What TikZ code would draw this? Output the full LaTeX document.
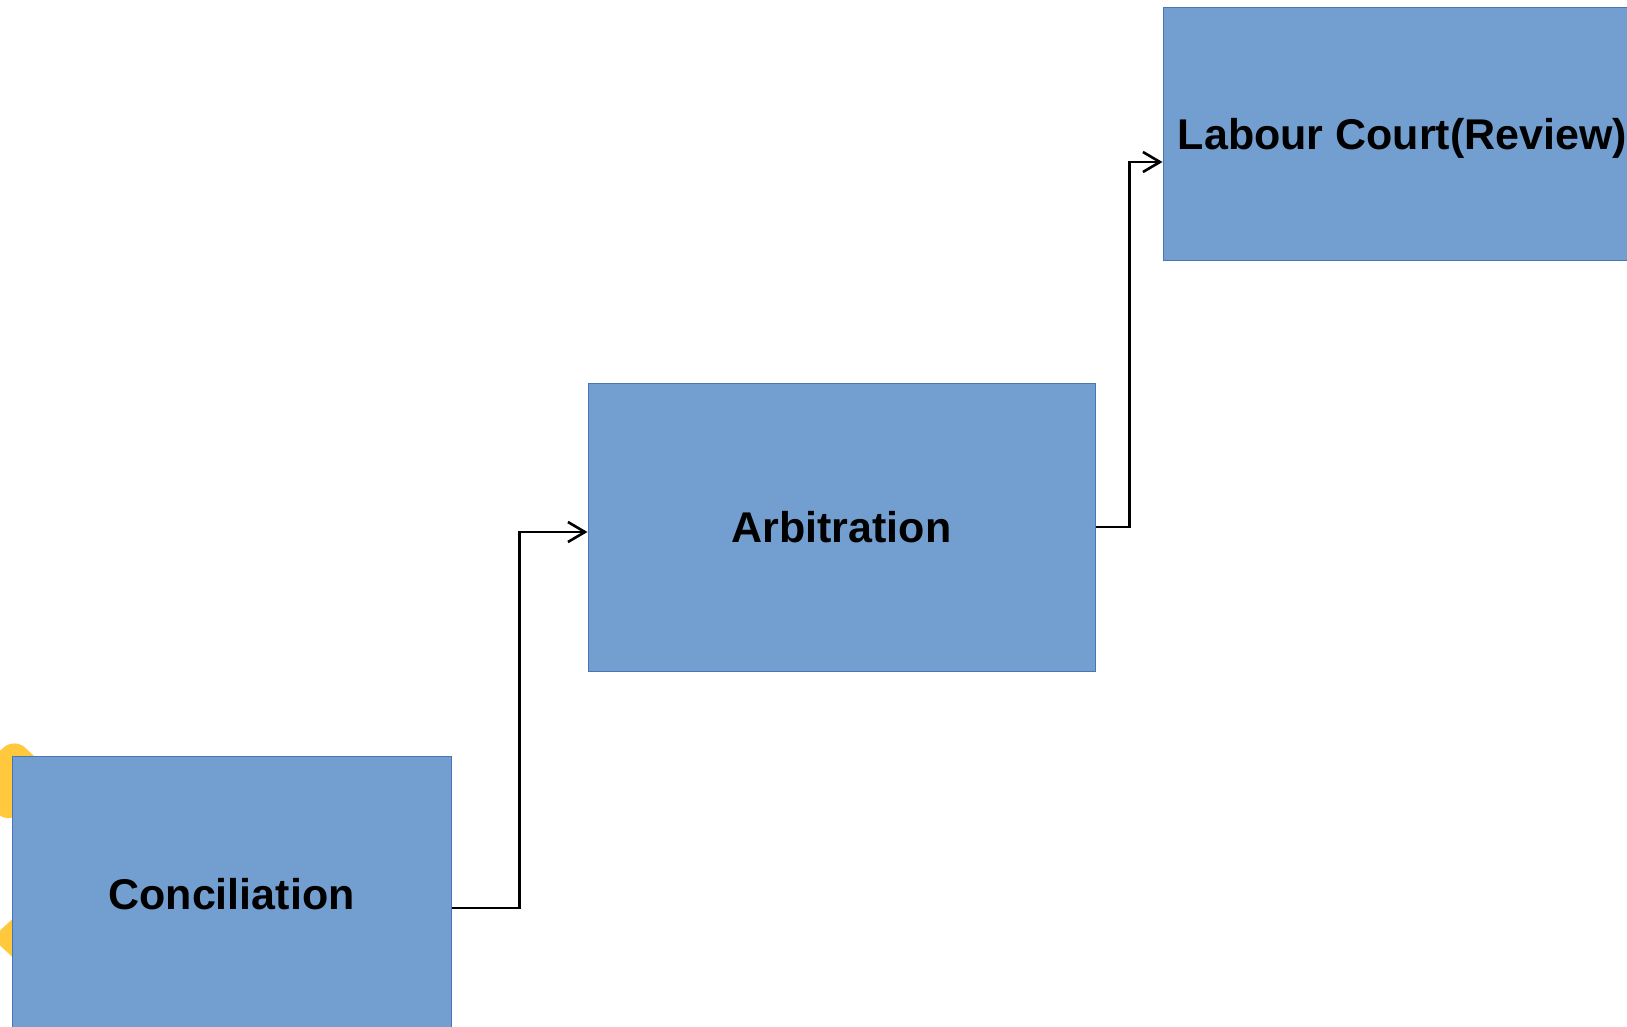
\documentclass[tikz,border=0pt]{standalone}
\usepackage{fontspec}
\setmainfont{Liberation Sans}
\usetikzlibrary{arrows.meta}
\definecolor{boxfill}{HTML}{729FCF}
\definecolor{boxline}{HTML}{4A75B5}
\definecolor{blob}{HTML}{FFC83D}
\tikzset{
  stagebox/.style={draw=boxline, line width=1pt, fill=boxfill, inner sep=0pt,
    font=\fontsize{43}{50}\selectfont\bfseries, text=black},
  stagetext/.style={inner sep=0pt, font=\fontsize{43}{50}\selectfont\bfseries, text=black},
  conn/.style={draw=black, line width=2.6pt,
    -{Straight Barb[length=17pt,width=20pt,line width=2.6pt]}},
}
\begin{document}
\begin{tikzpicture}[x=1pt,y=-1pt]
\useasboundingbox (0,0) rectangle (1627,1027);
\clip (0,0) rectangle (1627,1027);
\fill[white] (0,0) rectangle (1627,1027);
% yellow blobs behind the first box
\fill[blob, rounded corners=14pt] (15,738) -- (57,778) -- (8,824) -- (-35,780) -- cycle;
\fill[blob, rounded corners=12pt] (35,898) -- (-8,938) -- (35,978) -- cycle;
% boxes
\node[stagebox, minimum width=439pt, minimum height=276pt] (conc) at (231.5,894) {Conciliation};
\node[stagebox, minimum width=507pt, minimum height=288pt] (arb) at (841.5,527) {Arbitration};
\node[stagebox, minimum width=479pt, minimum height=252pt] (lab) at (1402.5,134) {};
\node[stagetext] (labt) at ([yshift=-4.5pt]lab.center) {Labour Court(Review)};
% connectors
\draw[conn] ([yshift=-14pt]conc.east) -- ++(68pt,0) |- ([yshift=-5pt]arb.west);
\draw[conn] (arb.east) -- ++(34pt,0) |- ([yshift=-28pt]lab.west);
\end{tikzpicture}
\end{document}
